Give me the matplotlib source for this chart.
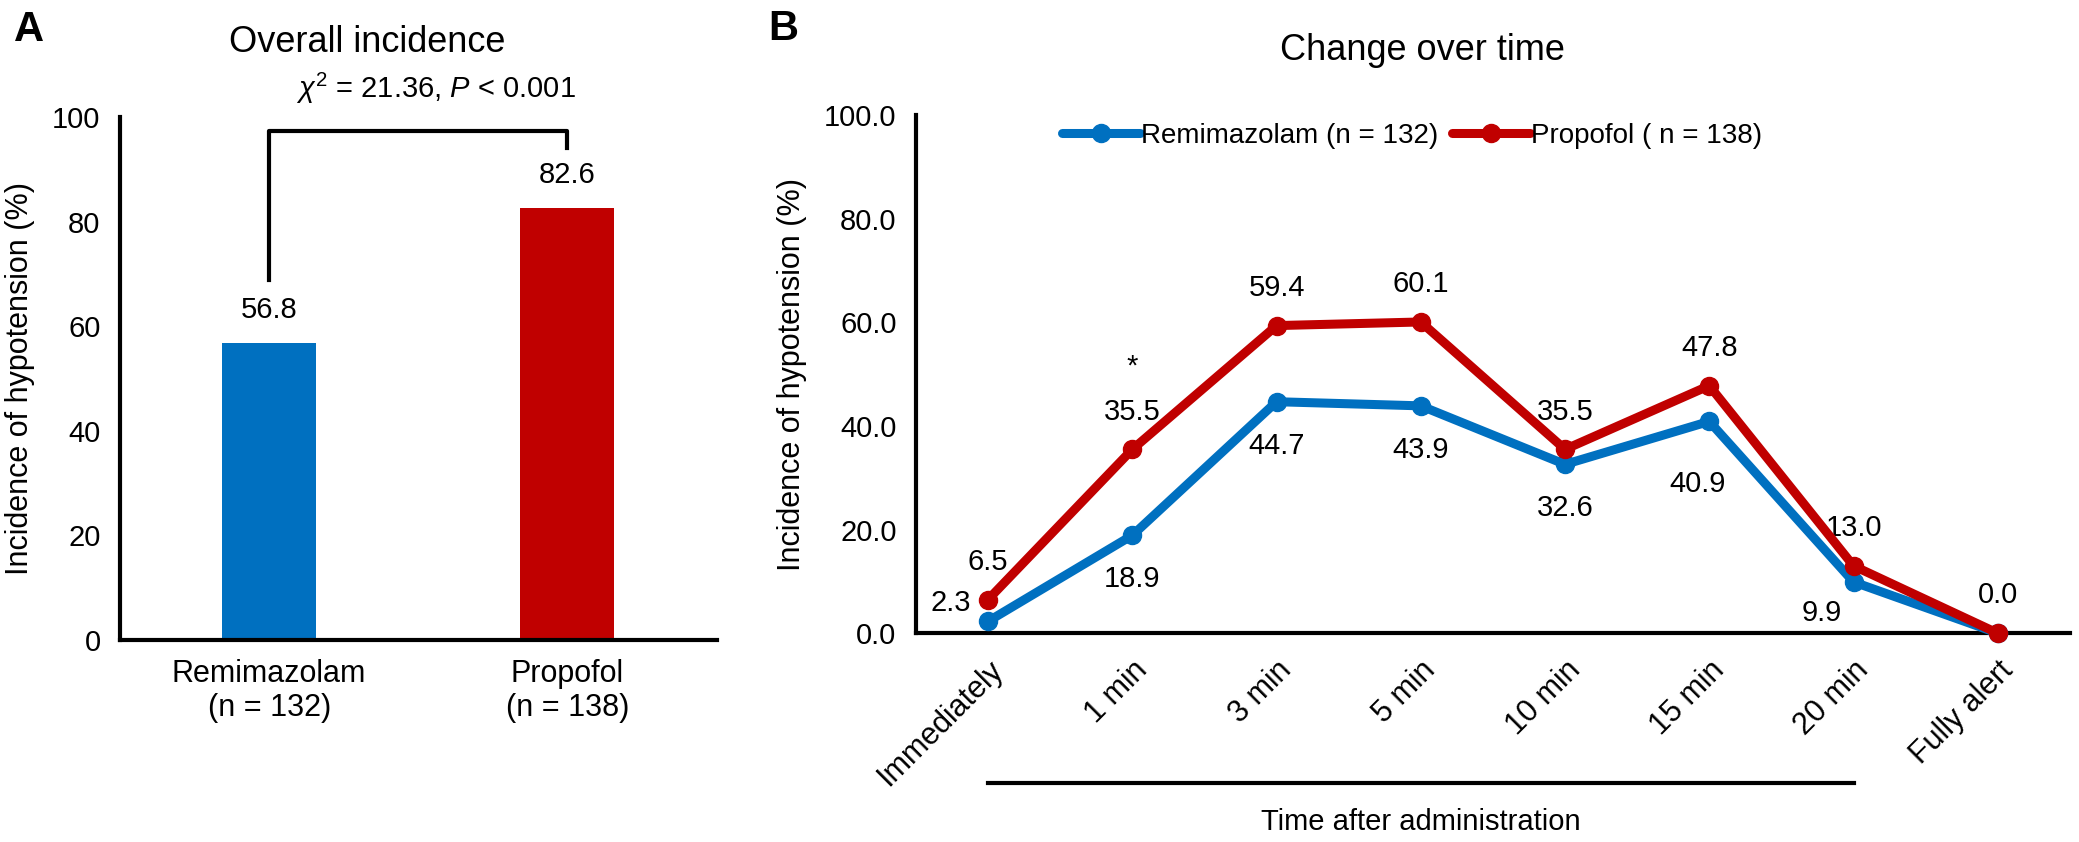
import matplotlib
matplotlib.use("Agg")
import matplotlib.pyplot as plt
import matplotlib.transforms as mtransforms

plt.rcParams['font.family'] = ['Liberation Sans', 'DejaVu Sans']
plt.rcParams['mathtext.fontset'] = 'custom'
plt.rcParams['mathtext.rm'] = 'Liberation Sans'
plt.rcParams['mathtext.it'] = 'Liberation Sans:italic'

BLUE = '#0070C0'
RED = '#C00000'

# Panel A data
groups = ['Remimazolam\n(n = 132)', 'Propofol\n(n = 138)']
overall = [56.8, 82.6]

# Panel B data
timepoints = ['Immediately', '1 min', '3 min', '5 min', '10 min', '15 min', '20 min', 'Fully alert']
remi = [2.3, 18.9, 44.7, 43.9, 32.6, 40.9, 9.9, 0.0]
prop = [6.5, 35.5, 59.4, 60.1, 35.5, 47.8, 13.0, 0.0]

fig = plt.figure(figsize=(20.79, 8.42), dpi=100)

# ---------- Panel A ----------
axA = fig.add_axes([0.0577, 0.240, 0.287, 0.621])
xa = list(range(len(groups)))
axA.bar(xa, overall, width=0.315, color=[BLUE, RED])
for x, v in zip(xa, overall):
    axA.text(x, v + 6.3, f'{v:.1f}', ha='center', va='center', fontsize=21)
axA.set_xlim(-0.5, 1.5)
axA.set_ylim(0, 100)
axA.set_yticks([0, 20, 40, 60, 80, 100])
axA.set_xticks(xa)
axA.set_xticklabels(groups, fontsize=22, linespacing=1.15)
axA.tick_params(axis='y', length=0, labelsize=21, pad=14)
axA.tick_params(axis='x', length=0, pad=14)
axA.set_ylabel('Incidence of hypotension (%)', fontsize=22, labelpad=12)
for s in ['top', 'right']:
    axA.spines[s].set_visible(False)
for s in ['left', 'bottom']:
    axA.spines[s].set_linewidth(3)

# significance bracket
axA.plot([0, 0, 1, 1], [68.8, 97.3, 97.3, 94.1], color='black', lw=3, clip_on=False)
axA.text(0.56, 105.5, r'$\chi^2$ = 21.36, $\it{P}$ < 0.001', ha='center', va='center', fontsize=21)
fig.text(0.1765, 0.95, 'Overall incidence', ha='center', va='center', fontsize=26)
fig.text(0.014, 0.964, 'A', ha='center', va='center', fontsize=30, fontweight='bold')

# ---------- Panel B ----------
axB = fig.add_axes([0.4406, 0.248, 0.555, 0.615])
xb = list(range(len(timepoints)))
axB.plot(xb, remi, color=BLUE, lw=6.5, marker='o', ms=13, label='Remimazolam (n = 132)',
         clip_on=False, zorder=3, solid_capstyle='round')
axB.plot(xb, prop, color=RED, lw=6.5, marker='o', ms=13, label='Propofol ( n = 138)',
         clip_on=False, zorder=4, solid_capstyle='round')

# value labels: propofol above, remimazolam below (a few nudged sideways)
remi_dx = [-0.26, 0, 0, 0, 0, -0.08, -0.22, 0]
remi_dy = [3.6, -8.5, -8.5, -8.5, -8.5, -12, -6, 0]
for i, (r, p) in enumerate(zip(remi, prop)):
    axB.text(i, p + 7.3, f'{p:.1f}', ha='center', va='center', fontsize=21)
    if i == 7:
        continue
    axB.text(i + remi_dx[i], r + remi_dy[i], f'{r:.1f}', ha='center', va='center', fontsize=21)
axB.text(1, prop[1] + 16, '*', ha='center', va='center', fontsize=21)

axB.set_xlim(-0.5, 7.5)
axB.set_ylim(0, 100)
axB.set_yticks([0, 20, 40, 60, 80, 100])
axB.set_yticklabels([f'{t:.1f}' for t in [0, 20, 40, 60, 80, 100]])
axB.set_xticks(xb)
axB.set_xticklabels(timepoints, rotation=45, ha='right', rotation_mode='anchor', fontsize=22)
axB.tick_params(axis='y', length=0, labelsize=21, pad=14)
axB.tick_params(axis='x', length=0, pad=16)
axB.set_ylabel('Incidence of hypotension (%)', fontsize=22, labelpad=12)
for s in ['top', 'right']:
    axB.spines[s].set_visible(False)
for s in ['left', 'bottom']:
    axB.spines[s].set_linewidth(3)

axB.legend(loc='center', bbox_to_anchor=(0.43, 0.96), ncol=2, frameon=False,
           fontsize=20, handlelength=2.8, handletextpad=0.05, columnspacing=0.5)

# time bracket under the x labels
trans = mtransforms.blended_transform_factory(axB.transData, axB.transAxes)
axB.plot([0, 6], [-0.29, -0.29], color='black', lw=3, transform=trans, clip_on=False)
axB.text(3, -0.365, 'Time after administration', transform=trans, ha='center', va='center', fontsize=21)

fig.text(0.684, 0.94, 'Change over time', ha='center', va='center', fontsize=26)
fig.text(0.3766, 0.966, 'B', ha='center', va='center', fontsize=30, fontweight='bold')

fig.savefig('out.png', dpi=100)
